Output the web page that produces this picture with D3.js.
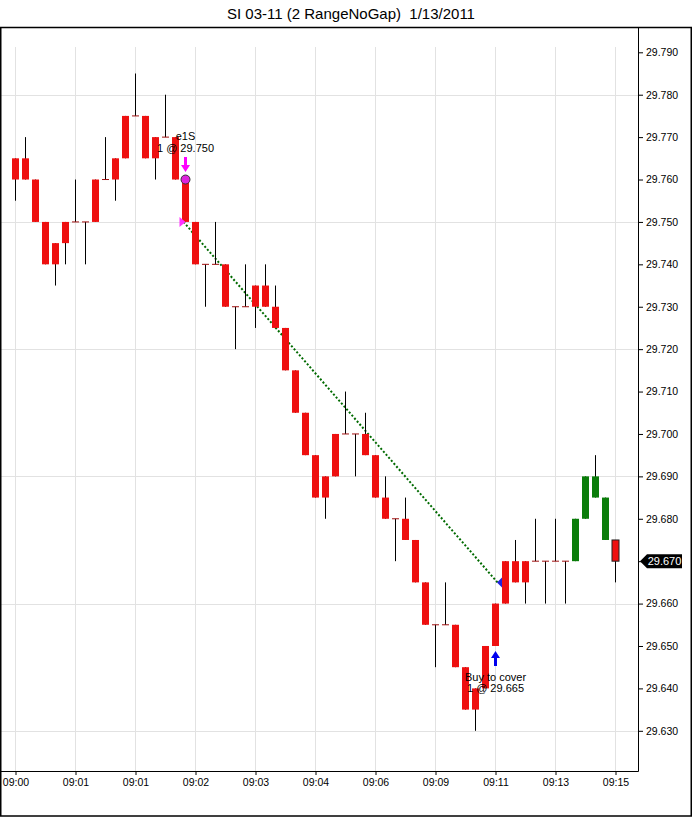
<!DOCTYPE html>
<html>
<head>
<meta charset="utf-8">
<script src="https://cdn.jsdelivr.net/npm/d3@7"></script>
<style>
  body { margin: 0; background: #fff; }
  svg { display: block; font-family: Arial, "Liberation Sans", sans-serif; }
</style>
</head>
<body>
<div id="chart"></div>
<script>
// 2-range bars, one entry per bar (bar index 0..60)
const opens = [
  29.760, 29.760, 29.760, 29.750, 29.745, 29.745, 29.750, 29.750, 29.750, 29.760,
  29.760, 29.765, 29.775, 29.775, 29.770, 29.770, 29.770, 29.760, 29.750, 29.740,
  29.740, 29.740, 29.730, 29.730, 29.735, 29.730, 29.730, 29.725, 29.715, 29.705,
  29.695, 29.690, 29.690, 29.700, 29.700, 29.695, 29.695, 29.685, 29.680, 29.680,
  29.675, 29.665, 29.655, 29.655, 29.655, 29.645, 29.640, 29.640, 29.650, 29.660,
  29.665, 29.670, 29.670, 29.670, 29.670, 29.670, 29.670, 29.680, 29.685, 29.685,
  29.675
];
const highs = [
  29.765, 29.770, 29.760, 29.750, 29.745, 29.750, 29.760, 29.750, 29.760, 29.770,
  29.765, 29.775, 29.785, 29.775, 29.770, 29.780, 29.770, 29.760, 29.750, 29.740,
  29.750, 29.740, 29.730, 29.740, 29.735, 29.740, 29.735, 29.725, 29.715, 29.705,
  29.695, 29.690, 29.700, 29.710, 29.700, 29.705, 29.695, 29.690, 29.680, 29.685,
  29.675, 29.665, 29.655, 29.665, 29.655, 29.645, 29.640, 29.650, 29.660, 29.670,
  29.675, 29.670, 29.680, 29.670, 29.680, 29.670, 29.680, 29.690, 29.695, 29.685,
  29.675
];
const lows = [
  29.755, 29.760, 29.750, 29.740, 29.735, 29.740, 29.750, 29.740, 29.750, 29.760,
  29.755, 29.765, 29.775, 29.765, 29.760, 29.770, 29.760, 29.750, 29.740, 29.730,
  29.740, 29.730, 29.720, 29.730, 29.725, 29.730, 29.725, 29.715, 29.705, 29.695,
  29.685, 29.680, 29.690, 29.700, 29.690, 29.695, 29.685, 29.680, 29.670, 29.675,
  29.665, 29.655, 29.645, 29.655, 29.645, 29.635, 29.630, 29.640, 29.650, 29.660,
  29.665, 29.660, 29.670, 29.660, 29.670, 29.660, 29.670, 29.680, 29.685, 29.675,
  29.665
];
const closes = [
  29.765, 29.765, 29.750, 29.740, 29.740, 29.750, 29.750, 29.750, 29.760, 29.760,
  29.765, 29.775, 29.775, 29.765, 29.765, 29.770, 29.760, 29.750, 29.740, 29.740,
  29.740, 29.730, 29.730, 29.730, 29.730, 29.735, 29.725, 29.715, 29.705, 29.695,
  29.685, 29.685, 29.700, 29.700, 29.700, 29.700, 29.685, 29.680, 29.680, 29.675,
  29.665, 29.655, 29.655, 29.655, 29.645, 29.635, 29.635, 29.650, 29.660, 29.670,
  29.670, 29.665, 29.670, 29.670, 29.670, 29.670, 29.680, 29.690, 29.690, 29.675,
  29.670
];
// paint bar colour per bar: r = red, g = green
const paint = "rrrrrrrrrrrrrrrrrrrrrrrrrrrrrrrrrrrrrrrrrrrrrrrrrrrrrrrrggggr".split("");

const xTickBars = [0, 6, 12, 18, 24, 30, 36, 42, 48, 54, 60];
const xTickLabels = ["09:00", "09:01", "09:01", "09:02", "09:03", "09:04", "09:06", "09:09", "09:11", "09:13", "09:15"];
const yTicks = [29.63, 29.64, 29.65, 29.66, 29.67, 29.68, 29.69, 29.70, 29.71, 29.72, 29.73, 29.74, 29.75, 29.76, 29.77, 29.78, 29.79];
const yGrid = [29.63, 29.66, 29.69, 29.72, 29.75, 29.78];

// trade: sell short entry and buy to cover exit
const entry = { bar: 17, price: 29.750, signal: 29.760, label: "e1S", text: "1 @ 29.750" };
const exit = { bar: 48, price: 29.665, label: "Buy to cover", text: "1 @ 29.665" };
const lastPrice = 29.670;

const w = 692;
const h = 817;
const frameTop = 27;
const axisX = 638;
const axisY = 771;

const xScale = d3.scaleLinear().domain([0, 60]).range([15.5, 615.5]);
const yScale = d3.scaleLinear().domain([29.63, 29.79]).range([730.8, 52.3]);

const svg = d3.select("#chart").append("svg").attr("width", w).attr("height", h);

svg.append("text")
  .attr("x", 351).attr("y", 19)
  .attr("text-anchor", "middle")
  .style("font-size", "15px")
  .style("white-space", "pre")
  .text("SI 03-11 (2 RangeNoGap)  1/13/2011");

// grid
svg.append("g").selectAll("line").data(yGrid).enter().append("line")
  .attr("x1", 0).attr("x2", axisX)
  .attr("y1", (d) => Math.round(yScale(d)) + 0.5).attr("y2", (d) => Math.round(yScale(d)) + 0.5)
  .attr("stroke", "#e2e2e2");
svg.append("g").selectAll("line").data(xTickBars).enter().append("line")
  .attr("x1", (d) => xScale(d)).attr("x2", (d) => xScale(d))
  .attr("y1", 47).attr("y2", axisY)
  .attr("stroke", "#e2e2e2");

// trade line
svg.append("line")
  .attr("x1", xScale(entry.bar) - 2).attr("y1", yScale(entry.price))
  .attr("x2", xScale(exit.bar) + 2).attr("y2", yScale(exit.price))
  .attr("stroke", "#006a00").attr("stroke-width", 2).attr("stroke-dasharray", "2,2");

// candles
const bars = d3.range(opens.length);
const candles = svg.append("g").selectAll("g").data(bars).enter().append("g");
candles.append("line")
  .attr("x1", (i) => xScale(i)).attr("x2", (i) => xScale(i))
  .attr("y1", (i) => yScale(highs[i])).attr("y2", (i) => yScale(lows[i]))
  .attr("stroke", "#000");
candles.filter((i) => opens[i] !== closes[i]).append("rect")
  .attr("x", (i) => xScale(i) - 3.5)
  .attr("width", 7)
  .attr("y", (i) => yScale(Math.max(opens[i], closes[i])))
  .attr("height", (i) => yScale(Math.min(opens[i], closes[i])) - yScale(Math.max(opens[i], closes[i])))
  .attr("fill", (i) => paint[i] === "g" ? "#0a7d0a" : "#ee1010")
  .attr("stroke", (i) => i === opens.length - 1 ? "#222" : "none");
candles.filter((i) => opens[i] === closes[i]).append("line")
  .attr("x1", (i) => xScale(i) - 3.5).attr("x2", (i) => xScale(i) + 3.5)
  .attr("y1", (i) => yScale(opens[i])).attr("y2", (i) => yScale(opens[i]))
  .attr("stroke", "#a01010");

// entry markers
const ex = xScale(entry.bar);
svg.append("path")
  .attr("d", `M${ex},${yScale(entry.price)} l-6,-5 l0,10 z`)
  .attr("fill", "#ff33ff");
svg.append("path")
  .attr("d", `M${ex - 1.5},157 h3 v8 h3 l-4.5,7 l-4.5,-7 h3 z`)
  .attr("fill", "#ff00ff");
svg.append("circle")
  .attr("cx", ex).attr("cy", yScale(entry.signal)).attr("r", 4.5)
  .attr("fill", "#dd22dd").attr("stroke", "#333");
svg.append("text").attr("x", ex).attr("y", 140).attr("text-anchor", "middle")
  .style("font-size", "11px").text(entry.label);
svg.append("text").attr("x", ex).attr("y", 152).attr("text-anchor", "middle")
  .style("font-size", "11px").text(entry.text);

// exit markers
const xx = xScale(exit.bar);
svg.append("path")
  .attr("d", `M${xx + 1.5},${yScale(exit.price)} l5,-5 l0,10 z`)
  .attr("fill", "#2222dd");
svg.append("path")
  .attr("d", `M${xx},651 l4.5,7 h-3 v8 h-3 v-8 h-3 z`)
  .attr("fill", "#0000ee");
svg.append("text").attr("x", xx).attr("y", 681).attr("text-anchor", "middle")
  .style("font-size", "11px").text(exit.label);
svg.append("text").attr("x", xx).attr("y", 692).attr("text-anchor", "middle")
  .style("font-size", "11px").text(exit.text);

// axes (the last-price marker covers its own tick label)
const yAxis = d3.axisRight(yScale).tickValues(yTicks)
  .tickFormat((d) => Math.abs(d - lastPrice) < 1e-9 ? "" : d3.format(".3f")(d))
  .tickSize(5).tickPadding(3);
const yG = svg.append("g").attr("transform", `translate(${axisX},0)`).call(yAxis);
yG.select(".domain").remove();
yG.selectAll("text").style("font-size", "10.5px").attr("fill", "#000");

const xAxis = d3.axisBottom(xScale).tickValues(xTickBars).tickFormat((d, i) => xTickLabels[i]).tickSize(4).tickPadding(4);
const xG = svg.append("g").attr("transform", `translate(0,${axisY})`).call(xAxis);
xG.select(".domain").remove();
xG.selectAll("text").style("font-size", "10.5px").attr("fill", "#000");

svg.append("line").attr("x1", axisX + 0.5).attr("x2", axisX + 0.5).attr("y1", frameTop).attr("y2", axisY + 0.5).attr("stroke", "#000");
svg.append("line").attr("x1", 0).attr("x2", axisX + 0.5).attr("y1", axisY + 0.5).attr("y2", axisY + 0.5).attr("stroke", "#000");

// last price marker
const ly = yScale(lastPrice);
svg.append("path")
  .attr("d", `M640,${ly} l7,-7 h35 v14 h-35 z`)
  .attr("fill", "#000");
svg.append("text").attr("x", 664.5).attr("y", ly + 4).attr("text-anchor", "middle")
  .attr("fill", "#fff").style("font-size", "11px").text(d3.format(".3f")(lastPrice));

// outer frame
svg.append("rect")
  .attr("x", 0.75).attr("y", frameTop + 0.5)
  .attr("width", w - 1.5).attr("height", h - frameTop - 1.5)
  .attr("fill", "none").attr("stroke", "#000").attr("stroke-width", 1.5);
</script>
</body>
</html>
